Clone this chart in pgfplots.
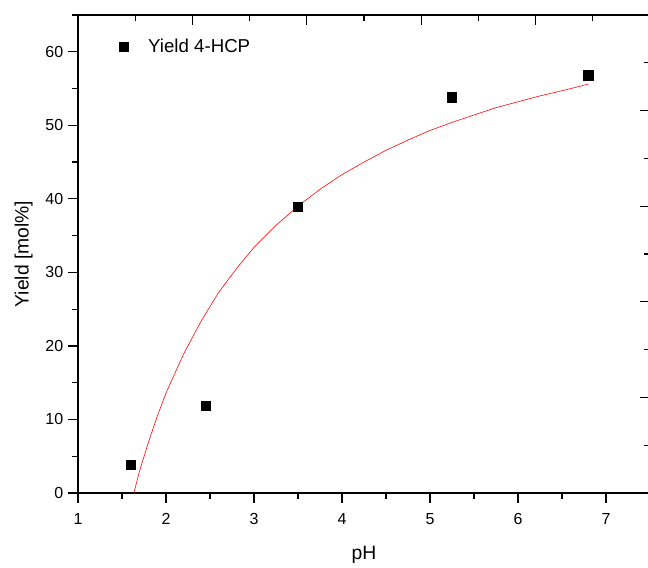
\documentclass[border=0pt]{standalone}
\usepackage{fontspec}
\setmainfont{Liberation Sans}
\usepackage{pgfplots}
\pgfplotsset{compat=1.18}
\begin{document}
\begin{tikzpicture}[x=1pt,y=1pt]
\begin{axis}[
  at={(0,0)}, anchor=south west,
  scale only axis, width=429pt, height=358.5pt,
  xmin=1, xmax=7.5, ymin=0, ymax=65,
  axis x line*=bottom, axis y line*=left,
  axis line style={line width=0.9pt, -},
  xtick={1,2,...,7}, minor xtick={1.5,2.5,...,7.5},
  ytick={0,10,...,60}, minor ytick={5,15,...,65},
  tick align=outside,
  major tick length=7.5pt, minor tick length=4.5pt,
  every tick/.style={black, line width=0.9pt},
  tick label style={font=\fontsize{12}{14}\selectfont},
  xticklabel style={yshift=-4pt},
  /pgf/number format/assume math mode=true,
  xlabel={pH}, ylabel={Yield [mol\%]},
  label style={font=\fontsize{14.5}{17}\selectfont},
  xlabel style={at={(axis description cs:0.5,-0.13)}, anchor=center},
  ylabel style={at={(axis description cs:-0.095,0.5)}, anchor=center},
  legend style={draw=none, fill=none, at={(axis description cs:0.064,0.962)}, anchor=north west, font=\fontsize{14}{16}\selectfont},
  legend cell align=left,
  clip=false,
]
\addplot[red!90!white, line width=0.5pt, forget plot] coordinates {
(1.635,0) (1.7,3.0) (1.8,6.9) (1.9,10.4) (2.0,13.6) (2.2,18.9) (2.4,23.4)
(2.6,27.3) (2.8,30.5) (3.0,33.4) (3.25,36.4) (3.5,39.0) (3.75,41.3) (4.0,43.3)
(4.25,45.0) (4.5,46.6) (4.75,48.0) (5.0,49.3) (5.25,50.4) (5.5,51.4) (5.75,52.4)
(6.0,53.2) (6.25,54.0) (6.5,54.7) (6.8,55.6)
};
\addplot[only marks, mark=square*, mark size=3.5pt, black] coordinates {
(1.6,3.8) (2.45,11.9) (3.5,38.9) (5.25,53.8) (6.8,56.8)
};
\addlegendentry{\hspace{13pt}Yield 4-HCP}
\end{axis}
\begin{axis}[
  at={(0,0)}, anchor=south west,
  scale only axis, width=429pt, height=358.5pt,
  xmin=0, xmax=10, ymin=0, ymax=10,
  axis x line*=top, axis y line*=right,
  axis line style={line width=0.9pt, -},
  xtick={0,2,...,10}, minor xtick={1,3,...,9},
  ytick={0,2,...,10}, minor ytick={1,3,...,9},
  xticklabels={}, yticklabels={},
  tick align=inside,
  major tick length=7.5pt, minor tick length=4.5pt,
  every tick/.style={black, line width=0.9pt},
]
\end{axis}
\pgfresetboundingbox
\path[use as bounding box] (-58.5pt,-55.5pt) rectangle (427.5pt,369.75pt);
\end{tikzpicture}
\end{document}
